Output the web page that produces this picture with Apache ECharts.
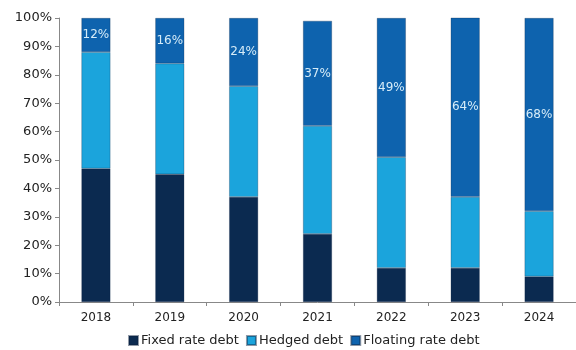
<!DOCTYPE html>
<html>
<head>
<meta charset="utf-8">
<script src="https://cdn.jsdelivr.net/npm/echarts@6/dist/echarts.min.js"></script>
<style>
  html, body { margin: 0; padding: 0; background: #fff; }
  #main { width: 576px; height: 350px; }
</style>
</head>
<body>
<div id="main"></div>
<script>
// data (percent of total debt)
var years = ['2018', '2019', '2020', '2021', '2022', '2023', '2024'];
var fixedDebt = [47, 45, 37, 24, 12, 12, 9];
var hedgedDebt = [41, 39, 39, 38, 39, 25, 23];
var floatingDebt = [12, 16, 24, 37, 49, 64, 68];

var myChart = echarts.init(document.getElementById('main'));

var font = 'DejaVu Sans';
var barStyle = function (color) {
    return { color: color, borderColor: 'rgba(10,30,60,0.45)', borderWidth: 0.6 };
};

var option = {
    animation: false,
    textStyle: { fontFamily: font },
    grid: { left: 59, right: 0, top: 18, bottom: 48 },
    legend: {
        top: 334,
        left: 128,
        padding: 0,
        itemWidth: 9,
        itemHeight: 9,
        itemGap: 7,
        icon: 'rect',
        textStyle: { fontFamily: font, fontSize: 13, color: '#222', padding: [0, 0, 0, -2] },
        data: ['Fixed rate debt', 'Hedged debt', 'Floating rate debt']
    },
    xAxis: {
        type: 'category',
        data: years,
        axisLine: { lineStyle: { color: '#888' } },
        axisTick: { show: true, length: 4, lineStyle: { color: '#888' } },
        axisLabel: { fontFamily: font, fontSize: 12, color: '#222', margin: 10 }
    },
    yAxis: {
        type: 'value',
        min: 0,
        max: 100,
        interval: 10,
        splitLine: { show: false },
        axisLine: { show: true, lineStyle: { color: '#888' } },
        axisTick: { show: true, length: 4, lineStyle: { color: '#888' } },
        axisLabel: { fontFamily: font, fontSize: 13, color: '#222', margin: 7, formatter: '{value}%' }
    },
    series: [
        {
            name: 'Fixed rate debt',
            type: 'bar',
            stack: 'debt',
            barWidth: 29,
            itemStyle: barStyle('#0b2a50'),
            data: fixedDebt
        },
        {
            name: 'Hedged debt',
            type: 'bar',
            stack: 'debt',
            itemStyle: barStyle('#1ba4dc'),
            data: hedgedDebt
        },
        {
            name: 'Floating rate debt',
            type: 'bar',
            stack: 'debt',
            itemStyle: barStyle('#0e63ae'),
            label: {
                show: true,
                position: 'inside',
                formatter: '{c}%',
                fontFamily: font,
                fontSize: 12,
                color: '#d6ecf8'
            },
            data: floatingDebt
        }
    ]
};
myChart.setOption(option);
</script>
</body>
</html>
